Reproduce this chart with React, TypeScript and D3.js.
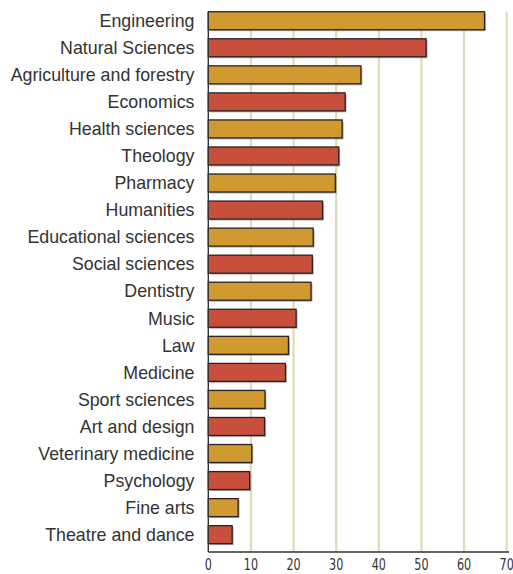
import React from "react";
import * as d3 from "d3";

const categories = [
  "Engineering",
  "Natural Sciences",
  "Agriculture and forestry",
  "Economics",
  "Health sciences",
  "Theology",
  "Pharmacy",
  "Humanities",
  "Educational sciences",
  "Social sciences",
  "Dentistry",
  "Music",
  "Law",
  "Medicine",
  "Sport sciences",
  "Art and design",
  "Veterinary medicine",
  "Psychology",
  "Fine arts",
  "Theatre and dance",
];
const values = [
  64.8, 51.1, 35.8, 32.1, 31.4, 30.6, 29.8, 26.8, 24.6, 24.4, 24.1, 20.6, 18.8,
  18.1, 13.3, 13.2, 10.2, 9.7, 7.0, 5.6,
];
const ticks = [0, 10, 20, 30, 40, 50, 60, 70];
const barColors = ["#D09A30", "#C94F3D"];

export default function App() {
  const W = 513;
  const H = 574;
  const x = d3.scaleLinear().domain([0, 70]).range([208.3, 506.7]);
  const y = d3
    .scaleBand<string>()
    .domain(categories)
    .range([7.2, 548.2])
    .paddingInner(0.335)
    .paddingOuter(0.1675);
  const axisY = 552;
  const gridTop = 12;

  return (
    <div style={{ position: "absolute", left: 0, top: 0 }}>
      <svg width={W} height={H} style={{ display: "block", background: "#fff" }}>
        {ticks
          .filter((t) => t > 0)
          .map((t) => (
            <line
              key={"g" + t}
              x1={x(t)}
              x2={x(t)}
              y1={gridTop}
              y2={axisY}
              stroke="#DCDCB6"
              strokeWidth={2.2}
            />
          ))}
        {categories.map((c, i) => {
          const y0 = y(c)!;
          const bw = x(values[i]) - x(0);
          return (
            <g key={c}>
              <rect
                x={x(0) + 1.5}
                y={y0 + 1.5}
                width={bw}
                height={y.bandwidth()}
                fill="#777"
                opacity={0.55}
              />
              <rect
                x={x(0)}
                y={y0}
                width={bw}
                height={y.bandwidth()}
                fill={barColors[i % 2]}
                stroke="#2a2222"
                strokeWidth={1.3}
              />
              <text
                x={194.5}
                y={y0 + y.bandwidth() / 2}
                dy="0.35em"
                textAnchor="end"
                fontFamily="'Liberation Sans', Arial, sans-serif"
                fontSize={17.8}
                fill="#333"
              >
                {c}
              </text>
            </g>
          );
        })}
        <line x1={x(0)} x2={x(0)} y1={gridTop} y2={axisY} stroke="#333" strokeWidth={1.4} />
        <line x1={x(0)} x2={509} y1={axisY} y2={axisY} stroke="#333" strokeWidth={1.4} />
        {ticks.map((t) => (
          <text
            key={"t" + t}
            x={x(t)}
            y={570.3}
            textAnchor="middle"
            fontFamily="'Liberation Sans Narrow', 'DejaVu Sans Condensed', sans-serif"
            fontSize={15.5}
            fill="#333"
            transform={`translate(${x(t)},0) scale(0.8,1) translate(${-x(t)},0)`}
          >
            {t}
          </text>
        ))}
      </svg>
    </div>
  );
}
